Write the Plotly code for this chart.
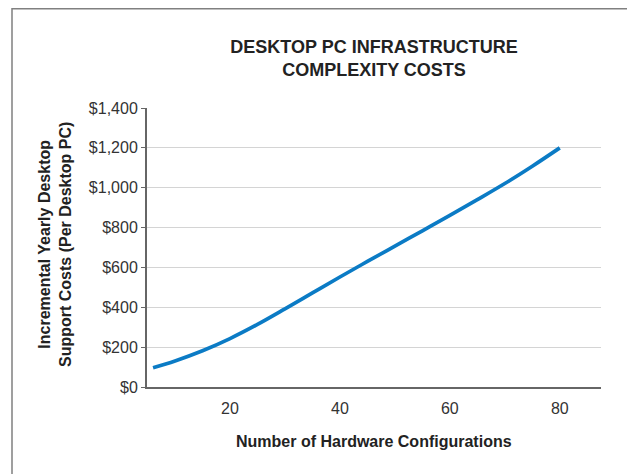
import plotly.graph_objects as go

configs = [6, 10, 15, 20, 25, 30, 35, 40, 45, 50, 55, 60, 65, 70, 75, 80]
costs = [97, 131, 182, 243, 314, 392, 472, 552, 630, 707, 784, 861, 940, 1021, 1108, 1200]
y_ticks = [0, 200, 400, 600, 800, 1000, 1200, 1400]
y_tick_labels = ["$0", "$200", "$400", "$600", "$800", "$1,000", "$1,200", "$1,400"]
x_ticks = [20, 40, 60, 80]

FONT = "Liberation Sans, Arial, sans-serif"

# page body has an 8px default margin; layout is laid out in figure coords
L, T, PW, PH = 139, 100, 454, 279
W, H = 635, 474

fig = go.Figure()
fig.add_trace(go.Scatter(
    x=configs, y=costs, mode="lines",
    line=dict(color="#0b7bc5", width=3.7, shape="spline", smoothing=1.0),
    hoverinfo="skip", showlegend=False,
))

fig.update_layout(
    width=W, height=H,
    margin=dict(l=L, r=W - L - PW, t=T, b=H - T - PH),
    paper_bgcolor="white", plot_bgcolor="white",
    font=dict(family=FONT, color="#333333"),
    title=dict(
        text="<b>DESKTOP PC INFRASTRUCTURE<br>COMPLEXITY COSTS</b>",
        x=0.5, xref="paper", xanchor="center",
        y=1 - 45 / H, yref="container", yanchor="middle",
        font=dict(family=FONT, size=18, color="#222222"),
    ),
    xaxis=dict(
        range=[4.9, 87.5], tickvals=x_ticks, showgrid=False, zeroline=False,
        showline=True, linecolor="#666666", linewidth=2,
        ticks="", tickfont=dict(size=16, color="#333333"), ticklabelstandoff=6,
    ),
    yaxis=dict(
        range=[0, 1400], tickvals=y_ticks, ticktext=y_tick_labels,
        showgrid=True, gridcolor="#d4d4d4", gridwidth=1, zeroline=False,
        showline=True, linecolor="#666666", linewidth=2,
        ticks="outside", ticklen=4, tickcolor="#666666",
        tickfont=dict(size=16, color="#333333"),
    ),
    shapes=[dict(
        type="rect", xref="paper", yref="paper",
        x0=(4 - L) / PW, x1=(700 - L) / PW,
        y0=(T + PH - 520) / PH, y1=(T + PH - 0.75) / PH,
        line=dict(color="#808080", width=1.5), fillcolor="rgba(0,0,0,0)", layer="below",
    )],
    annotations=[
        dict(text="<b>Incremental Yearly Desktop<br>Support Costs (Per Desktop PC)</b>",
             xref="paper", yref="paper", x=(47 - L) / PW, y=(T + PH - 237) / PH,
             xanchor="center", yanchor="middle", textangle=-90, showarrow=False,
             font=dict(family=FONT, size=16, color="#222222")),
        dict(text="<b>Number of Hardware Configurations</b>",
             xref="paper", yref="paper", x=0.5, y=(T + PH - 433) / PH,
             xanchor="center", yanchor="middle", showarrow=False,
             font=dict(family=FONT, size=16, color="#222222")),
    ],
)

fig.write_html("out.html")
